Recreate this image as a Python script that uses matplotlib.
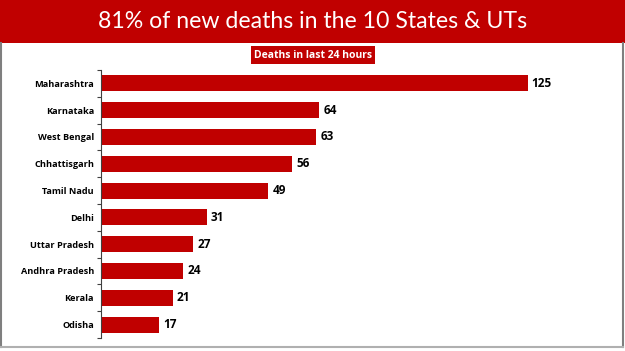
import matplotlib
matplotlib.use("Agg")
import matplotlib.pyplot as plt
from matplotlib.patches import Rectangle
from matplotlib.lines import Line2D
import numpy as np

states = ["Maharashtra", "Karnataka", "West Bengal", "Chhattisgarh", "Tamil Nadu",
          "Delhi", "Uttar Pradesh", "Andhra Pradesh", "Kerala", "Odisha"]
deaths = [125, 64, 63, 56, 49, 31, 27, 24, 21, 17]
title = "81% of new deaths in the 10 States & UTs"
subtitle = "Deaths in last 24 hours"

RED = "#C00000"
W, H = 625, 351
fig = plt.figure(figsize=(W / 100, H / 100), dpi=100)
fig.patch.set_facecolor("white")

# header band
fig.patches.append(Rectangle((0, 1 - 43 / H), 1, 43 / H, transform=fig.transFigure,
                             facecolor=RED, edgecolor="none", zorder=0))
fig.text(312.5 / W, 1 - 21 / H, title, color="white", fontsize=16.7,
         family="Lato", ha="center", va="center")
fig.text(313 / W, 1 - 55 / H, subtitle, color="white", fontsize=7.5, fontweight="bold",
         family="Open Sans", ha="center", va="center",
         bbox=dict(boxstyle="square,pad=0.3", facecolor=RED, edgecolor="none"))

# border lines
fig.lines.append(Line2D([1.5 / W, 1.5 / W], [1 - 43 / H, 1 - 347 / H], transform=fig.transFigure,
                        color="#7f7f7f", lw=1.5))
fig.lines.append(Line2D([623 / W, 623 / W], [1 - 43 / H, 1 - 347 / H], transform=fig.transFigure,
                        color="#7f7f7f", lw=1.5))
fig.lines.append(Line2D([1.5 / W, 623 / W], [1 - 346.5 / H, 1 - 346.5 / H], transform=fig.transFigure,
                        color="#b0b0b0", lw=1.5))

ax_left, ax_right = 101 / W, 613 / W
ax_top, ax_bottom = 1 - 70 / H, 1 - 338 / H
ax = fig.add_axes([ax_left, ax_bottom, ax_right - ax_left, ax_top - ax_bottom])
y = np.arange(len(states))
ax.barh(y, deaths, height=0.6, color=RED, edgecolor="none")
ax.set_xlim(0, 150)
ax.set_ylim(len(states) - 0.5, -0.5)
for yi, v in zip(y, deaths):
    ax.text(v + 1.2, yi, str(v), va="center", ha="left", fontsize=8.5,
            fontweight="bold", family="Open Sans", color="black")

for s in ["top", "right", "bottom"]:
    ax.spines[s].set_visible(False)
ax.spines["left"].set_color("#404040")
ax.spines["left"].set_linewidth(0.8)
ax.set_xticks([])
ax.set_yticks(y)
ax.set_yticklabels(states, fontsize=6.6, fontweight="bold", family="Open Sans")
ax.tick_params(axis="y", which="major", length=0, pad=5)
ax.set_yticks(np.arange(-0.5, len(states)), minor=True)
ax.tick_params(axis="y", which="minor", length=3, width=0.8, color="#404040")
ax.set_facecolor("none")

fig.savefig("out.png", dpi=100)
